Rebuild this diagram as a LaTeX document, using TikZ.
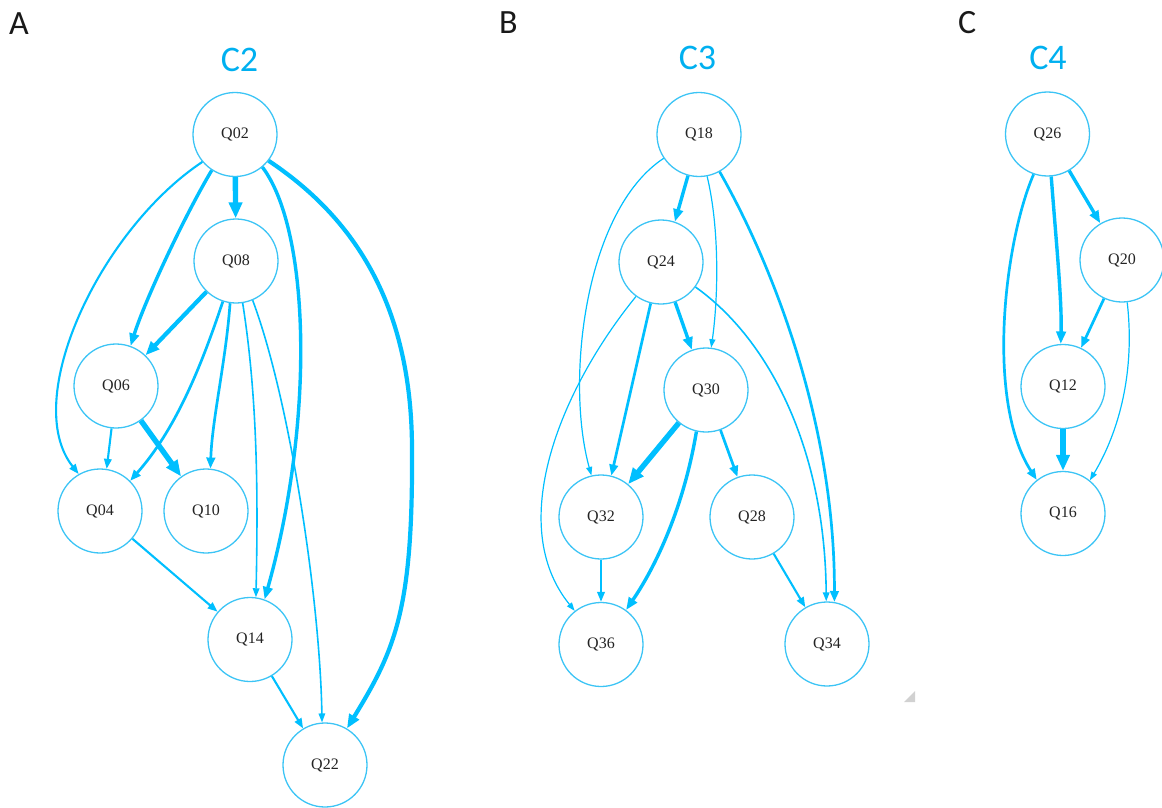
\documentclass[tikz,border=0pt]{standalone}
\usepackage{fontspec}
\setmainfont{Liberation Serif}
\newfontfamily\labfont{Carlito}
\usetikzlibrary{arrows.meta}
\definecolor{edgeblue}{RGB}{0,191,255}
\definecolor{nodeblue}{RGB}{60,196,245}
\definecolor{titleblue}{RGB}{0,176,240}
\definecolor{txt}{RGB}{35,35,35}
\tikzset{
  qn/.style={circle,draw=nodeblue,line width=1.3pt,minimum size=84pt,inner sep=0pt,
    font=\fontsize{16}{16}\selectfont,text=txt},
  panel/.style={font=\labfont\fontsize{34}{34}\selectfont,text=black!90,anchor=base west,inner sep=0pt},
  ctitle/.style={font=\labfont\fontsize{36}{36}\selectfont,text=titleblue,anchor=base,inner sep=0pt},
  e/.style={draw=edgeblue,line cap=butt},
  wa/.style={e,line width=1.2pt,-{Triangle[length=8.5pt,width=6pt]}},
  wb/.style={e,line width=1.6pt,-{Triangle[length=9pt,width=6.5pt]}},
  wc/.style={e,line width=2.1pt,-{Triangle[length=10pt,width=7.5pt]}},
  wd/.style={e,line width=2.7pt,-{Triangle[length=11pt,width=8.5pt]}},
  we/.style={e,line width=3.4pt,-{Triangle[length=12.5pt,width=9.5pt]}},
  wf/.style={e,line width=4.2pt,-{Triangle[length=14pt,width=11pt]}},
  wg/.style={e,line width=5.4pt,-{Triangle[length=16pt,width=13pt]}},
}
\begin{document}
\begin{tikzpicture}[x=1pt,y=-1pt]
\useasboundingbox (0,0) rectangle (1162,808);
\clip (0,0) rectangle (1162,808);
% panel labels
\node[panel] (lA) at (9,35) {A};
\node[panel] (lB) at (499,34) {B};
\node[panel] (lC) at (958,34) {C};
\node[ctitle] (tC2) at (239.5,71) {C2};
\node[ctitle] (tC3) at (697.5,70) {C3};
\node[ctitle] (tC4) at (1048,70) {C4};
% Panel A nodes
\node[qn] (Q02) at (235,134.5) {Q02};
\node[qn] (Q08) at (236,261) {Q08};
\node[qn] (Q06) at (116,386) {Q06};
\node[qn] (Q04) at (100,511) {Q04};
\node[qn] (Q10) at (206,511) {Q10};
\node[qn] (Q14) at (250,639.5) {Q14};
\node[qn] (Q22) at (325,765) {Q22};
% Panel B nodes
\node[qn] (Q18) at (699,134.5) {Q18};
\node[qn] (Q24) at (661,262) {Q24};
\node[qn] (Q30) at (706,390) {Q30};
\node[qn] (Q32) at (601,517) {Q32};
\node[qn] (Q28) at (752,517) {Q28};
\node[qn] (Q36) at (601,644.5) {Q36};
\node[qn] (Q34) at (827,644) {Q34};
% Panel C nodes
\node[qn] (Q26) at (1047.5,134) {Q26};
\node[qn] (Q20) at (1122,260) {Q20};
\node[qn] (Q12) at (1063,386.5) {Q12};
\node[qn] (Q16) at (1063,513.5) {Q16};
% Panel A edges
\draw[wg] (Q02) -- (Q08);
\draw[we] (Q02.-123) .. controls (185,215) and (145,300) .. (Q06.70);
\draw[wc] (Q02.-140) .. controls (100,230) and (20,400) .. (Q04.120);
\draw[we] (Q02.-50) .. controls (310,230) and (315,420) .. (Q14.70);
\draw[wf] (Q02.-38) .. controls (350,215) and (412,300) .. (412,450)
  .. controls (413,610) and (395,650) .. (Q22.59);
\draw[wf] (Q08) -- (Q06);
\draw[wd] (Q08.-108) .. controls (200,370) and (175,430) .. (Q04.45);
\draw[wd] (Q08.-98) .. controls (226,360) and (212,420) .. (Q10.84);
\draw[wb] (Q08.-81) .. controls (258,400) and (258,500) .. (Q14.82);
\draw[wb] (Q08.-67.5) .. controls (290,400) and (320,600) .. (Q22.94);
\draw[wc] (Q06.-96.5) -- (Q04.81);
\draw[wg] (Q06) -- (Q10);
\draw[wc] (Q04) -- (Q14);
\draw[wc] (Q14) -- (Q22);
% Panel B edges
\draw[we] (Q18.-105) -- (Q24.71);
\draw[wa] (Q18.-146.5) .. controls (585,210) and (565,380) .. (Q32.103);
\draw[wa] (Q18.-79.6) .. controls (720,230) and (718,300) .. (Q30.83.5);
\draw[wd] (Q18.-61) .. controls (770,260) and (835,420) .. (Q34.80.5);
\draw[we] (Q24) -- (Q30);
\draw[wd] (Q24.-104) -- (Q32.76.6);
\draw[wa] (Q24.-126) .. controls (560,390) and (505,525) .. (Q36.128.5);
\draw[wb] (Q24.-36) .. controls (770,340) and (825,450) .. (Q34.91);
\draw[wg] (Q30) -- (Q32);
\draw[we] (Q30.-103) .. controls (685,500) and (660,560) .. (Q36.54);
\draw[wd] (Q30) -- (Q28);
\draw[wc] (Q32) -- (Q36);
\draw[wc] (Q28) -- (Q34);
% Panel C edges
\draw[we] (Q26) -- (Q20);
\draw[we] (Q26.-85) .. controls (1056,240) and (1062,300) .. (Q12.93);
\draw[wd] (Q26.-109.5) .. controls (1005,240) and (985,400) .. (Q16.128);
\draw[wd] (Q20) -- (Q12);
\draw[wa] (Q20.-83) .. controls (1135,370) and (1120,430) .. (Q16.51);
\draw[wg] (Q12) -- (Q16);
% resize grip
\fill[black!18] (904,702) -- (915,702) -- (915,691) -- cycle;
\end{tikzpicture}
\end{document}
